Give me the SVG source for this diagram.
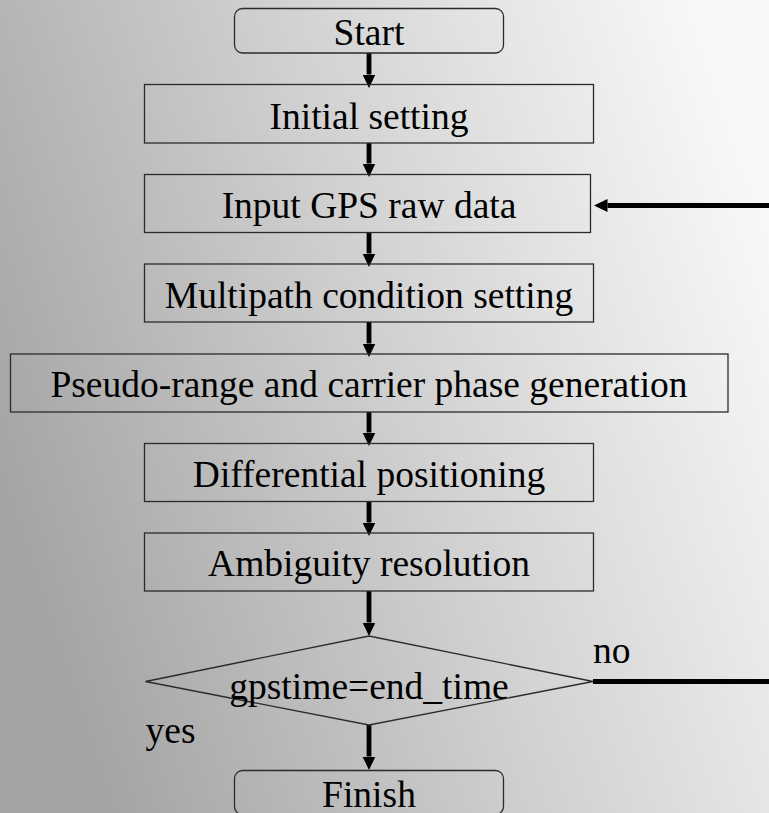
<svg xmlns="http://www.w3.org/2000/svg" width="769" height="813" viewBox="0 0 769 813">
  <defs>
    <linearGradient id="bg" gradientUnits="userSpaceOnUse" x1="0" y1="520" x2="769" y2="260">
      <stop offset="0" stop-color="#a3a3a3"/>
      <stop offset="0.5" stop-color="#cfcfcf"/>
      <stop offset="1" stop-color="#f7f7f7"/>
    </linearGradient>
    <marker id="head" markerUnits="userSpaceOnUse" markerWidth="14" markerHeight="14" refX="0" refY="6.5" orient="auto">
      <path d="M0,0 L13.5,6.5 L0,13 z" fill="#000"/>
    </marker>
    <style>
      .box { fill: none; stroke: #2b2b2b; stroke-width: 1.3; }
      .lbl { font-family: "Liberation Serif", "Times New Roman", serif; font-size: 37.5px; fill: #000; }
      .mid { text-anchor: middle; }
      .flow { stroke: #000; stroke-width: 4.8; fill: none; }
    </style>
  </defs>

  <rect x="0" y="0" width="769" height="813" fill="url(#bg)"/>

  <!-- connectors -->
  <g id="connectors">
    <line class="flow" x1="369" y1="53" x2="369" y2="74.5" marker-end="url(#head)"/>
    <line class="flow" x1="369" y1="143" x2="369" y2="163.5" marker-end="url(#head)"/>
    <line class="flow" x1="369" y1="232" x2="369" y2="253.5" marker-end="url(#head)"/>
    <line class="flow" x1="369" y1="322" x2="369" y2="343.5" marker-end="url(#head)"/>
    <line class="flow" x1="369" y1="412" x2="369" y2="432.5" marker-end="url(#head)"/>
    <line class="flow" x1="369" y1="502" x2="369" y2="522.5" marker-end="url(#head)"/>
    <line class="flow" x1="369" y1="591" x2="369" y2="622.5" marker-end="url(#head)"/>
    <line class="flow" x1="369" y1="725" x2="369" y2="756.5" marker-end="url(#head)"/>
    <!-- loop back: "no" branch leaves the decision and re-enters at the data input -->
    <line class="flow" x1="593" y1="681.5" x2="790" y2="681.5"/>
    <line class="flow" x1="790" y1="205.5" x2="607.5" y2="205.5" marker-end="url(#head)"/>
  </g>

  <g id="start">
    <rect class="box" x="234.5" y="8.5" width="269" height="44.5" rx="8"/>
    <text class="lbl mid" x="369" y="45">Start</text>
  </g>

  <g id="initial-setting">
    <rect class="box" x="144.5" y="84.5" width="449" height="58.5"/>
    <text class="lbl mid" x="369" y="128.5">Initial setting</text>
  </g>

  <g id="input-gps">
    <rect class="box" x="144.5" y="174.5" width="446" height="58"/>
    <text class="lbl mid" x="369" y="217.5">Input GPS raw data</text>
  </g>

  <g id="multipath">
    <rect class="box" x="144.5" y="264" width="449" height="58"/>
    <text class="lbl mid" x="369" y="307.5">Multipath condition setting</text>
  </g>

  <g id="pseudo-range">
    <rect class="box" x="10.5" y="354" width="717.5" height="58"/>
    <text class="lbl mid" x="369" y="396.5">Pseudo-range and carrier phase generation</text>
  </g>

  <g id="differential">
    <rect class="box" x="144.5" y="443.5" width="449" height="58"/>
    <text class="lbl mid" x="369" y="487">Differential positioning</text>
  </g>

  <g id="ambiguity">
    <rect class="box" x="144.5" y="533" width="449" height="58"/>
    <text class="lbl mid" x="369" y="575.5">Ambiguity resolution</text>
  </g>

  <g id="decision">
    <polygon class="box" points="145.5,681.5 369,636 593,681.5 369,725"/>
    <text class="lbl mid" x="369" y="698.5">gpstime=end_time</text>
    <text class="lbl" x="593" y="662.5">no</text>
    <text class="lbl" x="145.5" y="742.5">yes</text>
  </g>

  <g id="finish">
    <rect class="box" x="234.5" y="770.5" width="269" height="44" rx="8"/>
    <text class="lbl mid" x="369" y="806.5">Finish</text>
  </g>
</svg>
